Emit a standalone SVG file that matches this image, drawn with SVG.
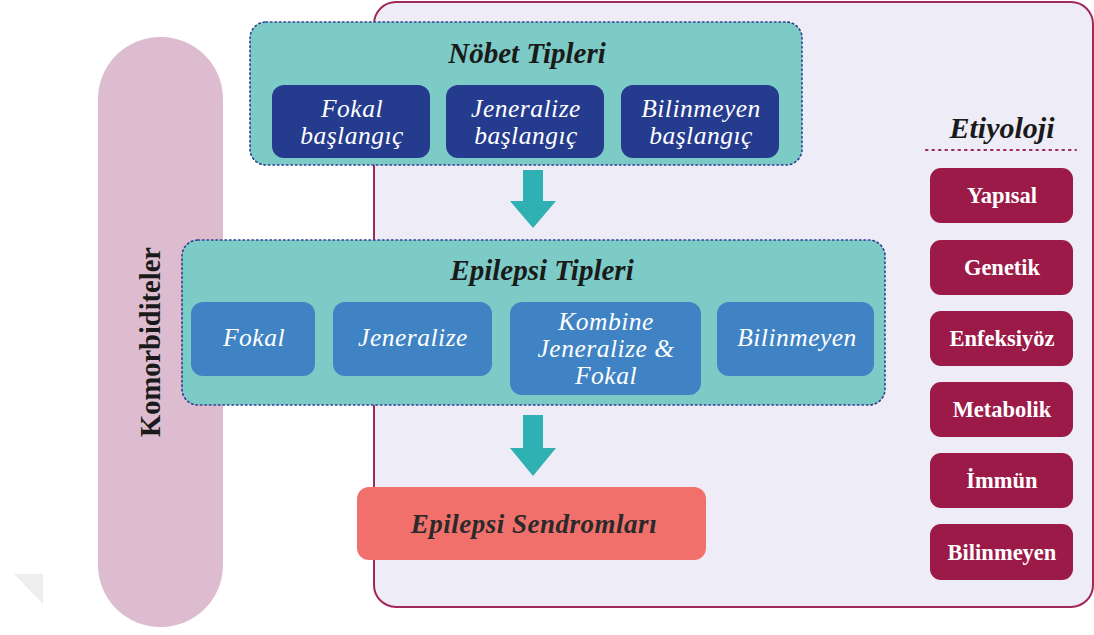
<svg xmlns="http://www.w3.org/2000/svg" width="1094" height="635" viewBox="0 0 1094 635">
<style>
.grp{fill:#7ccbc7;stroke:#2e3f94;stroke-width:1.6;stroke-dasharray:1.5 3;stroke-linecap:round}
.title{font-family:"Liberation Serif",serif;font-weight:bold;font-style:italic;font-size:29px;fill:#1a1a1a;text-anchor:middle}
.navy{fill:#253b8e}
.blue{fill:#3f83c4}
.wit{font-family:"Liberation Serif",serif;font-style:italic;font-size:25.5px;fill:#ffffff;text-anchor:middle;letter-spacing:0.5px}
.ety{fill:#9b1a48}
.etyt{font-family:"Liberation Serif",serif;font-weight:bold;font-size:22.5px;fill:#ffffff;text-anchor:middle}
.arrow{fill:#2fb0b3}
</style>
<rect width="1094" height="635" fill="#ffffff"/>
<polygon points="14,574 43,574 43,604" fill="#eeeeee"/>
<g id="frame">
<rect x="374" y="2" width="719" height="605" rx="22" fill="#eeecf6" stroke="#a0285a" stroke-width="2"/>
</g>
<g id="komorbiditeler">
<rect x="98" y="37" width="125" height="590" rx="62" fill="#ddbcd0"/>
<text transform="translate(160,342) rotate(-90)" font-family="Liberation Serif,serif" font-weight="bold" font-size="28.5" fill="#1a1a1a" text-anchor="middle">Komorbiditeler</text>
</g>
<g id="nobet-tipleri">
<rect class="grp" x="250" y="22" width="552" height="143" rx="16"/>
<text class="title" x="527" y="63">Nöbet Tipleri</text>
</g>
<g id="nobet-fokal">
<rect class="navy" x="272" y="85" width="158" height="73" rx="12"/>
<text class="wit" x="352" y="117">Fokal</text>
<text class="wit" x="352" y="144">başlangıç</text>
</g>
<g id="nobet-jeneralize">
<rect class="navy" x="446" y="85" width="158" height="73" rx="12"/>
<text class="wit" x="526" y="117">Jeneralize</text>
<text class="wit" x="526" y="144">başlangıç</text>
</g>
<g id="nobet-bilinmeyen">
<rect class="navy" x="621" y="85" width="158" height="73" rx="12"/>
<text class="wit" x="701" y="117">Bilinmeyen</text>
<text class="wit" x="701" y="144">başlangıç</text>
</g>
<g id="connectors">
<path class="arrow" d="M523,170 h20 v31 h13 l-23,27 l-23,-27 h13 z"/>
<path class="arrow" d="M523,415 h20 v33 h13 l-23,28 l-23,-28 h13 z"/>
</g>
<g id="epilepsi-tipleri">
<rect class="grp" x="182" y="240" width="703" height="165" rx="16"/>
<text class="title" x="542" y="280">Epilepsi Tipleri</text>
</g>
<g id="ep-fokal">
<rect class="blue" x="191" y="302" width="124" height="74" rx="12"/>
<text class="wit" x="254" y="346">Fokal</text>
</g>
<g id="ep-jeneralize">
<rect class="blue" x="333" y="302" width="159" height="74" rx="12"/>
<text class="wit" x="413" y="346">Jeneralize</text>
</g>
<g id="ep-kombine">
<rect class="blue" x="510" y="302" width="191" height="93" rx="12"/>
<text class="wit" x="606" y="330">Kombine</text>
<text class="wit" x="606" y="357">Jeneralize &amp;</text>
<text class="wit" x="606" y="384">Fokal</text>
</g>
<g id="ep-bilinmeyen">
<rect class="blue" x="717" y="302" width="157" height="74" rx="12"/>
<text class="wit" x="797" y="346">Bilinmeyen</text>
</g>
<g id="epilepsi-sendromlari">
<rect x="357" y="487" width="349" height="73" rx="12" fill="#f2706b"/>
<text class="title" x="534" y="533" style="fill:#2a2a2a;font-size:27px;letter-spacing:0.5px">Epilepsi Sendromları</text>
</g>
<g id="etiyoloji">
<text class="title" x="1002" y="138" style="font-size:30px">Etiyoloji</text>
<line x1="926" y1="150" x2="1076" y2="150" stroke="#a0285a" stroke-width="2.2" stroke-dasharray="1.5 5" stroke-linecap="round"/>
</g>
<g id="ety-yapisal">
<rect class="ety" x="930" y="168" width="143" height="55" rx="11"/>
<text class="etyt" x="1002" y="203">Yapısal</text>
</g>
<g id="ety-genetik">
<rect class="ety" x="930" y="240" width="143" height="55" rx="11"/>
<text class="etyt" x="1002" y="275">Genetik</text>
</g>
<g id="ety-enfeksiyoz">
<rect class="ety" x="930" y="311" width="143" height="55" rx="11"/>
<text class="etyt" x="1002" y="346">Enfeksiyöz</text>
</g>
<g id="ety-metabolik">
<rect class="ety" x="930" y="382" width="143" height="55" rx="11"/>
<text class="etyt" x="1002" y="417">Metabolik</text>
</g>
<g id="ety-immun">
<rect class="ety" x="930" y="453" width="143" height="55" rx="11"/>
<text class="etyt" x="1002" y="488">İmmün</text>
</g>
<g id="ety-bilinmeyen">
<rect class="ety" x="930" y="524" width="143" height="56" rx="11"/>
<text class="etyt" x="1002" y="560">Bilinmeyen</text>
</g>
</svg>
